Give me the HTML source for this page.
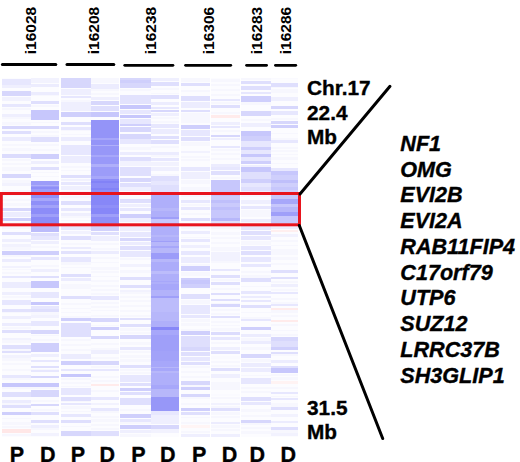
<!DOCTYPE html>
<html><head><meta charset="utf-8"><style>
html,body{margin:0;padding:0;background:#fff;}
body{width:520px;height:462px;overflow:hidden;}
svg{display:block;}
text{font-family:"Liberation Sans",sans-serif;font-weight:bold;fill:#000;stroke:#000;stroke-width:0.35px;}
.vl{font-size:15.5px;stroke-width:0;}
.pd{font-size:21.5px;text-anchor:middle;}
.lab{font-size:20.8px;}
.g{font-size:21.6px;font-style:italic;}
</style></head><body>
<svg width="520" height="462" viewBox="0 0 520 462">
<defs><filter id="bl" x="0" y="0" width="1" height="1"><feGaussianBlur stdDeviation="0.75"/></filter></defs>
<g filter="url(#bl)" shape-rendering="crispEdges">
<rect x="1.5" y="77.5" width="29.00" height="359.5" fill="rgb(252,252,255)"/>
<rect x="1.5" y="107.7" width="29.00" height="2.5" fill="rgb(247,247,254)"/>
<rect x="1.5" y="117.4" width="29.00" height="1.5" fill="rgb(247,247,254)"/>
<rect x="1.5" y="122.2" width="29.00" height="2.5" fill="rgb(247,247,254)"/>
<rect x="1.5" y="143.8" width="29.00" height="2" fill="rgb(247,247,254)"/>
<rect x="1.5" y="148.3" width="29.00" height="2.5" fill="rgb(247,247,254)"/>
<rect x="1.5" y="158.5" width="29.00" height="2" fill="rgb(247,247,254)"/>
<rect x="1.5" y="162.8" width="29.00" height="2.5" fill="rgb(247,247,254)"/>
<rect x="1.5" y="180.0" width="29.00" height="2.5" fill="rgb(247,247,254)"/>
<rect x="1.5" y="189.6" width="29.00" height="2" fill="rgb(247,247,254)"/>
<rect x="1.5" y="194.1" width="29.00" height="2" fill="rgb(247,247,254)"/>
<rect x="1.5" y="198.7" width="29.00" height="2.5" fill="rgb(247,247,254)"/>
<rect x="1.5" y="203.4" width="29.00" height="2.5" fill="rgb(247,247,254)"/>
<rect x="1.5" y="222.3" width="29.00" height="1.5" fill="rgb(247,247,254)"/>
<rect x="1.5" y="247.2" width="29.00" height="2.5" fill="rgb(247,247,254)"/>
<rect x="1.5" y="254.9" width="29.00" height="2.5" fill="rgb(247,247,254)"/>
<rect x="1.5" y="268.9" width="29.00" height="1.5" fill="rgb(247,247,254)"/>
<rect x="1.5" y="272.4" width="29.00" height="2" fill="rgb(247,247,254)"/>
<rect x="1.5" y="295.6" width="29.00" height="2" fill="rgb(247,247,254)"/>
<rect x="1.5" y="311.5" width="29.00" height="1.5" fill="rgb(247,247,254)"/>
<rect x="1.5" y="326.6" width="29.00" height="2" fill="rgb(247,247,254)"/>
<rect x="1.5" y="340.2" width="29.00" height="2.5" fill="rgb(247,247,254)"/>
<rect x="1.5" y="349.4" width="29.00" height="1.5" fill="rgb(247,247,254)"/>
<rect x="1.5" y="358.2" width="29.00" height="2.5" fill="rgb(247,247,254)"/>
<rect x="1.5" y="363.1" width="29.00" height="1.5" fill="rgb(247,247,254)"/>
<rect x="1.5" y="368.5" width="29.00" height="2" fill="rgb(247,247,254)"/>
<rect x="1.5" y="378.0" width="29.00" height="2" fill="rgb(247,247,254)"/>
<rect x="1.5" y="387.0" width="29.00" height="2" fill="rgb(247,247,254)"/>
<rect x="1.5" y="403.0" width="29.00" height="2" fill="rgb(247,247,254)"/>
<rect x="1.5" y="417.6" width="29.00" height="1.5" fill="rgb(247,247,254)"/>
<rect x="1.5" y="422.3" width="29.00" height="2.5" fill="rgb(247,247,254)"/>
<rect x="1.5" y="425.8" width="29.00" height="2" fill="rgb(247,247,254)"/>
<rect x="1.5" y="433.9" width="29.00" height="2.5" fill="rgb(247,247,254)"/>
<rect x="1.5" y="79" width="29.00" height="6.00" fill="rgb(231,231,254)"/>
<rect x="1.5" y="85" width="29.00" height="3.00" fill="rgb(239,239,254)"/>
<rect x="1.5" y="90.6" width="29.00" height="4.90" fill="rgb(215,215,252)"/>
<rect x="1.5" y="96.5" width="29.00" height="4.50" fill="rgb(242,242,254)"/>
<rect x="1.5" y="104" width="29.00" height="3.00" fill="rgb(231,231,254)"/>
<rect x="1.5" y="114" width="29.00" height="3.00" fill="rgb(239,239,254)"/>
<rect x="1.5" y="125.7" width="29.00" height="2.90" fill="rgb(215,215,252)"/>
<rect x="1.5" y="130.6" width="29.00" height="2.90" fill="rgb(223,223,253)"/>
<rect x="1.5" y="137.4" width="29.00" height="3.90" fill="rgb(236,236,254)"/>
<rect x="1.5" y="154" width="29.00" height="4.00" fill="rgb(220,220,253)"/>
<rect x="1.5" y="167" width="29.00" height="4.00" fill="rgb(247,247,254)"/>
<rect x="1.5" y="173.8" width="29.00" height="3.90" fill="rgb(215,215,252)"/>
<rect x="1.5" y="182.6" width="29.00" height="2.90" fill="rgb(242,242,254)"/>
<rect x="1.5" y="208" width="29.00" height="3.00" fill="rgb(215,215,252)"/>
<rect x="1.5" y="212" width="29.00" height="4.70" fill="rgb(236,236,254)"/>
<rect x="1.5" y="217.6" width="29.00" height="3.00" fill="rgb(207,207,252)"/>
<rect x="1.5" y="226" width="29.00" height="3.00" fill="rgb(247,247,254)"/>
<rect x="1.5" y="232" width="29.00" height="3.00" fill="rgb(223,223,253)"/>
<rect x="1.5" y="239" width="29.00" height="3.00" fill="rgb(239,239,254)"/>
<rect x="1.5" y="244" width="29.00" height="3.00" fill="rgb(242,242,254)"/>
<rect x="1.5" y="250.8" width="29.00" height="3.90" fill="rgb(207,207,252)"/>
<rect x="1.5" y="259" width="29.00" height="3.00" fill="rgb(236,236,254)"/>
<rect x="1.5" y="265.8" width="29.00" height="1.90" fill="rgb(242,242,254)"/>
<rect x="1.5" y="275.5" width="29.00" height="2.90" fill="rgb(231,231,254)"/>
<rect x="1.5" y="282.3" width="29.00" height="5.90" fill="rgb(236,236,254)"/>
<rect x="1.5" y="292" width="29.00" height="3.00" fill="rgb(239,239,254)"/>
<rect x="1.5" y="299.9" width="29.00" height="4.80" fill="rgb(231,231,254)"/>
<rect x="1.5" y="308.6" width="29.00" height="2.90" fill="rgb(226,226,253)"/>
<rect x="1.5" y="316.4" width="29.00" height="2.90" fill="rgb(239,239,254)"/>
<rect x="1.5" y="323" width="29.00" height="3.00" fill="rgb(236,236,254)"/>
<rect x="1.5" y="330" width="29.00" height="3.00" fill="rgb(223,223,253)"/>
<rect x="1.5" y="337.8" width="29.00" height="2.00" fill="rgb(242,242,254)"/>
<rect x="1.5" y="344.7" width="29.00" height="4.30" fill="rgb(223,223,253)"/>
<rect x="1.5" y="351" width="29.00" height="2.00" fill="rgb(223,223,253)"/>
<rect x="1.5" y="354.8" width="29.00" height="2.90" fill="rgb(242,242,254)"/>
<rect x="1.5" y="375" width="29.00" height="3.00" fill="rgb(231,231,254)"/>
<rect x="1.5" y="383" width="29.00" height="4.00" fill="rgb(199,199,252)"/>
<rect x="1.5" y="391.8" width="29.00" height="4.90" fill="rgb(223,223,253)"/>
<rect x="1.5" y="399.6" width="29.00" height="2.90" fill="rgb(236,236,254)"/>
<rect x="1.5" y="405.4" width="29.00" height="3.00" fill="rgb(223,223,253)"/>
<rect x="1.5" y="412.3" width="29.00" height="2.90" fill="rgb(207,207,252)"/>
<rect x="1.5" y="428.8" width="29.00" height="3.90" fill="rgb(255,231,231)"/>
<rect x="30.5" y="77.5" width="28.80" height="359.5" fill="rgb(252,252,255)"/>
<rect x="30.5" y="94.5" width="28.80" height="1.5" fill="rgb(247,247,254)"/>
<rect x="30.5" y="105.1" width="28.80" height="1.5" fill="rgb(247,247,254)"/>
<rect x="30.5" y="121.9" width="28.80" height="1.5" fill="rgb(247,247,254)"/>
<rect x="30.5" y="131.2" width="28.80" height="2" fill="rgb(247,247,254)"/>
<rect x="30.5" y="135.3" width="28.80" height="1.5" fill="rgb(247,247,254)"/>
<rect x="30.5" y="144.4" width="28.80" height="1.5" fill="rgb(247,247,254)"/>
<rect x="30.5" y="149.0" width="28.80" height="1.5" fill="rgb(247,247,254)"/>
<rect x="30.5" y="171.5" width="28.80" height="1.5" fill="rgb(247,247,254)"/>
<rect x="30.5" y="175.5" width="28.80" height="1.5" fill="rgb(247,247,254)"/>
<rect x="30.5" y="246.0" width="28.80" height="1.5" fill="rgb(247,247,254)"/>
<rect x="30.5" y="264.9" width="28.80" height="2.5" fill="rgb(247,247,254)"/>
<rect x="30.5" y="312.0" width="28.80" height="2.5" fill="rgb(247,247,254)"/>
<rect x="30.5" y="334.9" width="28.80" height="1.5" fill="rgb(247,247,254)"/>
<rect x="30.5" y="339.2" width="28.80" height="1.5" fill="rgb(247,247,254)"/>
<rect x="30.5" y="368.7" width="28.80" height="1.5" fill="rgb(247,247,254)"/>
<rect x="30.5" y="387.0" width="28.80" height="1.5" fill="rgb(247,247,254)"/>
<rect x="30.5" y="399.6" width="28.80" height="2" fill="rgb(247,247,254)"/>
<rect x="30.5" y="409.4" width="28.80" height="1.5" fill="rgb(247,247,254)"/>
<rect x="30.5" y="428.1" width="28.80" height="2" fill="rgb(247,247,254)"/>
<rect x="30.5" y="77.5" width="28.80" height="5.50" fill="rgb(242,242,254)"/>
<rect x="30.5" y="84" width="28.80" height="3.00" fill="rgb(236,236,254)"/>
<rect x="30.5" y="91.6" width="28.80" height="2.90" fill="rgb(236,236,254)"/>
<rect x="30.5" y="101.3" width="28.80" height="3.00" fill="rgb(223,223,253)"/>
<rect x="30.5" y="110" width="28.80" height="10.00" fill="rgb(199,199,252)"/>
<rect x="30.5" y="125.7" width="28.80" height="2.90" fill="rgb(215,215,252)"/>
<rect x="30.5" y="137.4" width="28.80" height="4.90" fill="rgb(223,223,253)"/>
<rect x="30.5" y="154" width="28.80" height="5.00" fill="rgb(207,207,252)"/>
<rect x="30.5" y="161" width="28.80" height="3.00" fill="rgb(239,239,254)"/>
<rect x="30.5" y="167" width="28.80" height="3.00" fill="rgb(223,223,253)"/>
<rect x="30.5" y="180.8" width="28.80" height="3.90" fill="rgb(156,156,249)"/>
<rect x="30.5" y="184.7" width="28.80" height="1.10" fill="rgb(175,175,250)"/>
<rect x="30.5" y="185.8" width="28.80" height="1.20" fill="rgb(156,156,249)"/>
<rect x="30.5" y="187" width="28.80" height="2.30" fill="rgb(143,143,248)"/>
<rect x="30.5" y="189.3" width="28.80" height="5.20" fill="rgb(156,156,249)"/>
<rect x="30.5" y="194.5" width="28.80" height="3.20" fill="rgb(143,143,248)"/>
<rect x="30.5" y="197.7" width="28.80" height="3.60" fill="rgb(167,167,250)"/>
<rect x="30.5" y="201.3" width="28.80" height="3.70" fill="rgb(143,143,248)"/>
<rect x="30.5" y="205" width="28.80" height="2.70" fill="rgb(162,162,249)"/>
<rect x="30.5" y="207.7" width="28.80" height="6.30" fill="rgb(140,140,248)"/>
<rect x="30.5" y="214" width="28.80" height="2.60" fill="rgb(159,159,249)"/>
<rect x="30.5" y="216.6" width="28.80" height="7.40" fill="rgb(140,140,248)"/>
<rect x="30.5" y="224" width="28.80" height="2.00" fill="rgb(167,167,250)"/>
<rect x="30.5" y="226" width="28.80" height="6.00" fill="rgb(188,188,251)"/>
<rect x="30.5" y="233" width="28.80" height="3.00" fill="rgb(223,223,253)"/>
<rect x="30.5" y="236" width="28.80" height="4.00" fill="rgb(231,231,254)"/>
<rect x="30.5" y="241" width="28.80" height="3.00" fill="rgb(239,239,254)"/>
<rect x="30.5" y="250.8" width="28.80" height="3.90" fill="rgb(207,207,252)"/>
<rect x="30.5" y="257" width="28.80" height="3.00" fill="rgb(231,231,254)"/>
<rect x="30.5" y="268.7" width="28.80" height="2.90" fill="rgb(239,239,254)"/>
<rect x="30.5" y="275.5" width="28.80" height="2.90" fill="rgb(223,223,253)"/>
<rect x="30.5" y="281.4" width="28.80" height="6.80" fill="rgb(199,199,252)"/>
<rect x="30.5" y="292" width="28.80" height="6.00" fill="rgb(231,231,254)"/>
<rect x="30.5" y="301.8" width="28.80" height="2.90" fill="rgb(199,199,252)"/>
<rect x="30.5" y="306" width="28.80" height="2.60" fill="rgb(231,231,254)"/>
<rect x="30.5" y="308.6" width="28.80" height="2.90" fill="rgb(223,223,253)"/>
<rect x="30.5" y="315" width="28.80" height="3.00" fill="rgb(242,242,254)"/>
<rect x="30.5" y="321" width="28.80" height="5.00" fill="rgb(231,231,254)"/>
<rect x="30.5" y="330" width="28.80" height="4.00" fill="rgb(215,215,252)"/>
<rect x="30.5" y="342.7" width="28.80" height="9.30" fill="rgb(207,207,252)"/>
<rect x="30.5" y="354" width="28.80" height="3.00" fill="rgb(239,239,254)"/>
<rect x="30.5" y="359.7" width="28.80" height="1.90" fill="rgb(231,231,254)"/>
<rect x="30.5" y="365.5" width="28.80" height="2.90" fill="rgb(223,223,253)"/>
<rect x="30.5" y="370.4" width="28.80" height="1.90" fill="rgb(231,231,254)"/>
<rect x="30.5" y="376" width="28.80" height="2.00" fill="rgb(215,215,252)"/>
<rect x="30.5" y="383" width="28.80" height="4.00" fill="rgb(199,199,252)"/>
<rect x="30.5" y="389.9" width="28.80" height="6.80" fill="rgb(215,215,252)"/>
<rect x="30.5" y="403.5" width="28.80" height="2.90" fill="rgb(215,215,252)"/>
<rect x="30.5" y="412.3" width="28.80" height="2.90" fill="rgb(223,223,253)"/>
<rect x="30.5" y="420" width="28.80" height="3.00" fill="rgb(223,223,253)"/>
<rect x="30.5" y="425" width="28.80" height="3.00" fill="rgb(239,239,254)"/>
<rect x="30.5" y="432.7" width="28.80" height="2.90" fill="rgb(242,242,254)"/>
<rect x="60.8" y="77.5" width="29.90" height="359.5" fill="rgb(252,252,255)"/>
<rect x="60.8" y="100.1" width="29.90" height="2" fill="rgb(247,247,254)"/>
<rect x="60.8" y="129.9" width="29.90" height="1.5" fill="rgb(247,247,254)"/>
<rect x="60.8" y="133.6" width="29.90" height="1.5" fill="rgb(247,247,254)"/>
<rect x="60.8" y="166.1" width="29.90" height="2" fill="rgb(247,247,254)"/>
<rect x="60.8" y="169.7" width="29.90" height="1.5" fill="rgb(247,247,254)"/>
<rect x="60.8" y="191.4" width="29.90" height="1.5" fill="rgb(247,247,254)"/>
<rect x="60.8" y="196.4" width="29.90" height="1.5" fill="rgb(247,247,254)"/>
<rect x="60.8" y="215.8" width="29.90" height="2" fill="rgb(247,247,254)"/>
<rect x="60.8" y="219.9" width="29.90" height="1.5" fill="rgb(247,247,254)"/>
<rect x="60.8" y="224.3" width="29.90" height="1.5" fill="rgb(247,247,254)"/>
<rect x="60.8" y="243.2" width="29.90" height="2" fill="rgb(247,247,254)"/>
<rect x="60.8" y="262.3" width="29.90" height="2.5" fill="rgb(247,247,254)"/>
<rect x="60.8" y="266.8" width="29.90" height="1.5" fill="rgb(247,247,254)"/>
<rect x="60.8" y="284.0" width="29.90" height="1.5" fill="rgb(247,247,254)"/>
<rect x="60.8" y="303.1" width="29.90" height="1.5" fill="rgb(247,247,254)"/>
<rect x="60.8" y="307.8" width="29.90" height="1.5" fill="rgb(247,247,254)"/>
<rect x="60.8" y="311.7" width="29.90" height="1.5" fill="rgb(247,247,254)"/>
<rect x="60.8" y="316.0" width="29.90" height="2" fill="rgb(247,247,254)"/>
<rect x="60.8" y="338.8" width="29.90" height="2" fill="rgb(247,247,254)"/>
<rect x="60.8" y="343.8" width="29.90" height="2" fill="rgb(247,247,254)"/>
<rect x="60.8" y="349.2" width="29.90" height="1.5" fill="rgb(247,247,254)"/>
<rect x="60.8" y="377.6" width="29.90" height="2" fill="rgb(247,247,254)"/>
<rect x="60.8" y="381.6" width="29.90" height="2.5" fill="rgb(247,247,254)"/>
<rect x="60.8" y="385.8" width="29.90" height="1.5" fill="rgb(247,247,254)"/>
<rect x="60.8" y="400.8" width="29.90" height="1.5" fill="rgb(247,247,254)"/>
<rect x="60.8" y="406.2" width="29.90" height="2.5" fill="rgb(247,247,254)"/>
<rect x="60.8" y="410.9" width="29.90" height="1.5" fill="rgb(247,247,254)"/>
<rect x="60.8" y="425.5" width="29.90" height="1.5" fill="rgb(247,247,254)"/>
<rect x="60.8" y="77.5" width="29.90" height="10.20" fill="rgb(215,215,252)"/>
<rect x="60.8" y="88.7" width="29.90" height="5.80" fill="rgb(239,239,254)"/>
<rect x="60.8" y="95.5" width="29.90" height="2.90" fill="rgb(231,231,254)"/>
<rect x="60.8" y="102.3" width="29.90" height="8.70" fill="rgb(239,239,254)"/>
<rect x="60.8" y="112" width="29.90" height="5.00" fill="rgb(207,207,252)"/>
<rect x="60.8" y="121.8" width="29.90" height="2.90" fill="rgb(223,223,253)"/>
<rect x="60.8" y="126.7" width="29.90" height="2.90" fill="rgb(231,231,254)"/>
<rect x="60.8" y="137.4" width="29.90" height="3.90" fill="rgb(236,236,254)"/>
<rect x="60.8" y="145" width="29.90" height="10.00" fill="rgb(231,231,254)"/>
<rect x="60.8" y="156" width="29.90" height="6.70" fill="rgb(236,236,254)"/>
<rect x="60.8" y="174.8" width="29.90" height="2.90" fill="rgb(223,223,253)"/>
<rect x="60.8" y="179" width="29.90" height="2.00" fill="rgb(242,242,254)"/>
<rect x="60.8" y="181.6" width="29.90" height="2.90" fill="rgb(231,231,254)"/>
<rect x="60.8" y="185.5" width="29.90" height="4.90" fill="rgb(239,239,254)"/>
<rect x="60.8" y="201" width="29.90" height="4.00" fill="rgb(223,223,253)"/>
<rect x="60.8" y="208" width="29.90" height="3.00" fill="rgb(231,231,254)"/>
<rect x="60.8" y="212.8" width="29.90" height="2.90" fill="rgb(239,239,254)"/>
<rect x="60.8" y="226.4" width="29.90" height="3.90" fill="rgb(231,231,254)"/>
<rect x="60.8" y="231" width="29.90" height="3.00" fill="rgb(242,242,254)"/>
<rect x="60.8" y="236" width="29.90" height="4.00" fill="rgb(223,223,253)"/>
<rect x="60.8" y="246.9" width="29.90" height="1.90" fill="rgb(236,236,254)"/>
<rect x="60.8" y="250.8" width="29.90" height="2.90" fill="rgb(226,226,253)"/>
<rect x="60.8" y="257" width="29.90" height="5.00" fill="rgb(231,231,254)"/>
<rect x="60.8" y="273.6" width="29.90" height="2.90" fill="rgb(223,223,253)"/>
<rect x="60.8" y="277.5" width="29.90" height="3.90" fill="rgb(236,236,254)"/>
<rect x="60.8" y="286" width="29.90" height="3.00" fill="rgb(247,247,254)"/>
<rect x="60.8" y="296" width="29.90" height="3.00" fill="rgb(223,223,253)"/>
<rect x="60.8" y="318.4" width="29.90" height="2.90" fill="rgb(207,207,252)"/>
<rect x="60.8" y="323" width="29.90" height="14.00" fill="rgb(223,223,253)"/>
<rect x="60.8" y="353.8" width="29.90" height="4.90" fill="rgb(236,236,254)"/>
<rect x="60.8" y="360.6" width="29.90" height="3.90" fill="rgb(207,207,252)"/>
<rect x="60.8" y="369.4" width="29.90" height="2.00" fill="rgb(231,231,254)"/>
<rect x="60.8" y="374.3" width="29.90" height="2.90" fill="rgb(199,199,252)"/>
<rect x="60.8" y="388" width="29.90" height="6.70" fill="rgb(231,231,254)"/>
<rect x="60.8" y="396.7" width="29.90" height="3.90" fill="rgb(223,223,253)"/>
<rect x="60.8" y="402.5" width="29.90" height="2.90" fill="rgb(231,231,254)"/>
<rect x="60.8" y="414.2" width="29.90" height="2.90" fill="rgb(231,231,254)"/>
<rect x="60.8" y="420" width="29.90" height="3.00" fill="rgb(223,223,253)"/>
<rect x="60.8" y="430.8" width="29.90" height="4.80" fill="rgb(215,215,252)"/>
<rect x="90.7" y="77.5" width="28.70" height="359.5" fill="rgb(252,252,255)"/>
<rect x="90.7" y="89.1" width="28.70" height="2" fill="rgb(247,247,254)"/>
<rect x="90.7" y="93.3" width="28.70" height="2" fill="rgb(247,247,254)"/>
<rect x="90.7" y="242.7" width="28.70" height="2" fill="rgb(247,247,254)"/>
<rect x="90.7" y="248.0" width="28.70" height="2" fill="rgb(247,247,254)"/>
<rect x="90.7" y="256.8" width="28.70" height="2" fill="rgb(247,247,254)"/>
<rect x="90.7" y="261.8" width="28.70" height="1.5" fill="rgb(247,247,254)"/>
<rect x="90.7" y="267.2" width="28.70" height="2.5" fill="rgb(247,247,254)"/>
<rect x="90.7" y="271.3" width="28.70" height="2" fill="rgb(247,247,254)"/>
<rect x="90.7" y="275.7" width="28.70" height="1.5" fill="rgb(247,247,254)"/>
<rect x="90.7" y="280.0" width="28.70" height="2" fill="rgb(247,247,254)"/>
<rect x="90.7" y="284.5" width="28.70" height="2.5" fill="rgb(247,247,254)"/>
<rect x="90.7" y="289.2" width="28.70" height="1.5" fill="rgb(247,247,254)"/>
<rect x="90.7" y="292.9" width="28.70" height="2.5" fill="rgb(247,247,254)"/>
<rect x="90.7" y="301.8" width="28.70" height="2.5" fill="rgb(247,247,254)"/>
<rect x="90.7" y="305.6" width="28.70" height="2" fill="rgb(247,247,254)"/>
<rect x="90.7" y="309.6" width="28.70" height="1.5" fill="rgb(247,247,254)"/>
<rect x="90.7" y="314.7" width="28.70" height="2.5" fill="rgb(247,247,254)"/>
<rect x="90.7" y="324.5" width="28.70" height="1.5" fill="rgb(247,247,254)"/>
<rect x="90.7" y="343.4" width="28.70" height="1.5" fill="rgb(247,247,254)"/>
<rect x="90.7" y="348.0" width="28.70" height="1.5" fill="rgb(247,247,254)"/>
<rect x="90.7" y="356.9" width="28.70" height="2" fill="rgb(247,247,254)"/>
<rect x="90.7" y="366.2" width="28.70" height="2" fill="rgb(247,247,254)"/>
<rect x="90.7" y="376.0" width="28.70" height="1.5" fill="rgb(247,247,254)"/>
<rect x="90.7" y="379.5" width="28.70" height="2.5" fill="rgb(247,247,254)"/>
<rect x="90.7" y="389.8" width="28.70" height="2" fill="rgb(247,247,254)"/>
<rect x="90.7" y="411.4" width="28.70" height="2" fill="rgb(247,247,254)"/>
<rect x="90.7" y="415.8" width="28.70" height="2.5" fill="rgb(247,247,254)"/>
<rect x="90.7" y="419.4" width="28.70" height="2.5" fill="rgb(247,247,254)"/>
<rect x="90.7" y="424.1" width="28.70" height="1.5" fill="rgb(247,247,254)"/>
<rect x="90.7" y="428.2" width="28.70" height="2" fill="rgb(247,247,254)"/>
<rect x="90.7" y="77.5" width="28.70" height="5.50" fill="rgb(247,247,254)"/>
<rect x="90.7" y="83.8" width="28.70" height="4.90" fill="rgb(236,236,254)"/>
<rect x="90.7" y="96.5" width="28.70" height="3.90" fill="rgb(239,239,254)"/>
<rect x="90.7" y="101.3" width="28.70" height="3.90" fill="rgb(215,215,252)"/>
<rect x="90.7" y="106" width="28.70" height="5.00" fill="rgb(223,223,253)"/>
<rect x="90.7" y="112" width="28.70" height="5.00" fill="rgb(199,199,252)"/>
<rect x="90.7" y="119.8" width="28.70" height="18.20" fill="rgb(148,148,248)"/>
<rect x="90.7" y="138" width="28.70" height="2.00" fill="rgb(167,167,250)"/>
<rect x="90.7" y="140" width="28.70" height="5.00" fill="rgb(148,148,248)"/>
<rect x="90.7" y="145" width="28.70" height="1.40" fill="rgb(175,175,250)"/>
<rect x="90.7" y="146.4" width="28.70" height="8.60" fill="rgb(151,151,248)"/>
<rect x="90.7" y="155" width="28.70" height="1.80" fill="rgb(167,167,250)"/>
<rect x="90.7" y="156.8" width="28.70" height="7.20" fill="rgb(153,153,249)"/>
<rect x="90.7" y="164" width="28.70" height="2.50" fill="rgb(175,175,250)"/>
<rect x="90.7" y="166.5" width="28.70" height="0.50" fill="rgb(156,156,249)"/>
<rect x="90.7" y="167" width="28.70" height="9.00" fill="rgb(156,156,249)"/>
<rect x="90.7" y="176" width="28.70" height="3.00" fill="rgb(167,167,250)"/>
<rect x="90.7" y="179" width="28.70" height="2.00" fill="rgb(140,140,248)"/>
<rect x="90.7" y="181" width="28.70" height="2.00" fill="rgb(130,130,247)"/>
<rect x="90.7" y="183" width="28.70" height="2.00" fill="rgb(140,140,248)"/>
<rect x="90.7" y="185" width="28.70" height="2.50" fill="rgb(140,140,248)"/>
<rect x="90.7" y="187.5" width="28.70" height="2.50" fill="rgb(130,130,247)"/>
<rect x="90.7" y="190" width="28.70" height="5.00" fill="rgb(140,140,248)"/>
<rect x="90.7" y="195" width="28.70" height="9.80" fill="rgb(135,135,248)"/>
<rect x="90.7" y="204.8" width="28.70" height="3.10" fill="rgb(143,143,248)"/>
<rect x="90.7" y="207.9" width="28.70" height="6.10" fill="rgb(135,135,248)"/>
<rect x="90.7" y="214" width="28.70" height="3.00" fill="rgb(159,159,249)"/>
<rect x="90.7" y="217" width="28.70" height="6.00" fill="rgb(143,143,248)"/>
<rect x="90.7" y="223" width="28.70" height="3.00" fill="rgb(159,159,249)"/>
<rect x="90.7" y="226" width="28.70" height="4.60" fill="rgb(210,210,252)"/>
<rect x="90.7" y="232" width="28.70" height="3.00" fill="rgb(223,223,253)"/>
<rect x="90.7" y="236" width="28.70" height="5.00" fill="rgb(239,239,254)"/>
<rect x="90.7" y="250.8" width="28.70" height="2.90" fill="rgb(236,236,254)"/>
<rect x="90.7" y="296" width="28.70" height="4.00" fill="rgb(231,231,254)"/>
<rect x="90.7" y="318.4" width="28.70" height="3.90" fill="rgb(215,215,252)"/>
<rect x="90.7" y="327" width="28.70" height="3.00" fill="rgb(207,207,252)"/>
<rect x="90.7" y="336" width="28.70" height="3.00" fill="rgb(215,215,252)"/>
<rect x="90.7" y="350" width="28.70" height="3.80" fill="rgb(239,239,254)"/>
<rect x="90.7" y="360.6" width="28.70" height="3.90" fill="rgb(215,215,252)"/>
<rect x="90.7" y="369.4" width="28.70" height="2.00" fill="rgb(231,231,254)"/>
<rect x="90.7" y="384" width="28.70" height="2.00" fill="rgb(255,235,235)"/>
<rect x="90.7" y="396.7" width="28.70" height="2.90" fill="rgb(231,231,254)"/>
<rect x="90.7" y="402.5" width="28.70" height="2.90" fill="rgb(242,242,254)"/>
<rect x="90.7" y="408.4" width="28.70" height="2.90" fill="rgb(231,231,254)"/>
<rect x="90.7" y="430.8" width="28.70" height="4.80" fill="rgb(223,223,253)"/>
<rect x="120" y="77.5" width="30.60" height="359.5" fill="rgb(252,252,255)"/>
<rect x="120" y="89.0" width="30.60" height="1.5" fill="rgb(247,247,254)"/>
<rect x="120" y="147.0" width="30.60" height="2.5" fill="rgb(247,247,254)"/>
<rect x="120" y="193.0" width="30.60" height="2" fill="rgb(247,247,254)"/>
<rect x="120" y="258.0" width="30.60" height="1.5" fill="rgb(247,247,254)"/>
<rect x="120" y="270.1" width="30.60" height="2.5" fill="rgb(247,247,254)"/>
<rect x="120" y="292.4" width="30.60" height="2" fill="rgb(247,247,254)"/>
<rect x="120" y="295.9" width="30.60" height="2" fill="rgb(247,247,254)"/>
<rect x="120" y="299.8" width="30.60" height="2" fill="rgb(247,247,254)"/>
<rect x="120" y="304.6" width="30.60" height="2.5" fill="rgb(247,247,254)"/>
<rect x="120" y="310.1" width="30.60" height="2" fill="rgb(247,247,254)"/>
<rect x="120" y="315.0" width="30.60" height="1.5" fill="rgb(247,247,254)"/>
<rect x="120" y="328.2" width="30.60" height="2.5" fill="rgb(247,247,254)"/>
<rect x="120" y="332.0" width="30.60" height="2" fill="rgb(247,247,254)"/>
<rect x="120" y="342.0" width="30.60" height="2.5" fill="rgb(247,247,254)"/>
<rect x="120" y="350.7" width="30.60" height="2.5" fill="rgb(247,247,254)"/>
<rect x="120" y="355.3" width="30.60" height="2.5" fill="rgb(247,247,254)"/>
<rect x="120" y="359.3" width="30.60" height="2.5" fill="rgb(247,247,254)"/>
<rect x="120" y="368.9" width="30.60" height="2.5" fill="rgb(247,247,254)"/>
<rect x="120" y="372.4" width="30.60" height="2" fill="rgb(247,247,254)"/>
<rect x="120" y="408.6" width="30.60" height="2.5" fill="rgb(247,247,254)"/>
<rect x="120" y="422.4" width="30.60" height="2" fill="rgb(247,247,254)"/>
<rect x="120" y="434.4" width="30.60" height="2.5" fill="rgb(247,247,254)"/>
<rect x="120" y="77.5" width="30.60" height="2.50" fill="rgb(215,215,252)"/>
<rect x="120" y="80" width="30.60" height="3.00" fill="rgb(207,207,252)"/>
<rect x="120" y="83" width="30.60" height="4.70" fill="rgb(215,215,252)"/>
<rect x="120" y="94.5" width="30.60" height="9.80" fill="rgb(226,226,253)"/>
<rect x="120" y="105.2" width="30.60" height="3.80" fill="rgb(199,199,252)"/>
<rect x="120" y="110" width="30.60" height="4.00" fill="rgb(231,231,254)"/>
<rect x="120" y="115" width="30.60" height="3.00" fill="rgb(199,199,252)"/>
<rect x="120" y="119" width="30.60" height="4.80" fill="rgb(231,231,254)"/>
<rect x="120" y="123.8" width="30.60" height="1.90" fill="rgb(207,207,252)"/>
<rect x="120" y="126.7" width="30.60" height="4.80" fill="rgb(215,215,252)"/>
<rect x="120" y="133.5" width="30.60" height="5.80" fill="rgb(215,215,252)"/>
<rect x="120" y="139.3" width="30.60" height="4.90" fill="rgb(231,231,254)"/>
<rect x="120" y="152" width="30.60" height="3.00" fill="rgb(236,236,254)"/>
<rect x="120" y="157" width="30.60" height="3.80" fill="rgb(223,223,253)"/>
<rect x="120" y="161" width="30.60" height="5.00" fill="rgb(242,242,254)"/>
<rect x="120" y="167" width="30.60" height="8.80" fill="rgb(223,223,253)"/>
<rect x="120" y="177.7" width="30.60" height="3.90" fill="rgb(215,215,252)"/>
<rect x="120" y="182.6" width="30.60" height="3.90" fill="rgb(223,223,253)"/>
<rect x="120" y="186.5" width="30.60" height="4.50" fill="rgb(239,239,254)"/>
<rect x="120" y="199" width="30.60" height="4.00" fill="rgb(223,223,253)"/>
<rect x="120" y="204" width="30.60" height="3.00" fill="rgb(239,239,254)"/>
<rect x="120" y="208" width="30.60" height="3.00" fill="rgb(231,231,254)"/>
<rect x="120" y="213.8" width="30.60" height="3.80" fill="rgb(207,207,252)"/>
<rect x="120" y="218" width="30.60" height="4.00" fill="rgb(239,239,254)"/>
<rect x="120" y="226.4" width="30.60" height="4.90" fill="rgb(239,239,254)"/>
<rect x="120" y="232" width="30.60" height="5.00" fill="rgb(231,231,254)"/>
<rect x="120" y="238" width="30.60" height="3.00" fill="rgb(215,215,252)"/>
<rect x="120" y="242" width="30.60" height="3.00" fill="rgb(236,236,254)"/>
<rect x="120" y="246" width="30.60" height="4.00" fill="rgb(223,223,253)"/>
<rect x="120" y="250.8" width="30.60" height="6.20" fill="rgb(231,231,254)"/>
<rect x="120" y="263.8" width="30.60" height="2.90" fill="rgb(242,242,254)"/>
<rect x="120" y="276.5" width="30.60" height="3.90" fill="rgb(223,223,253)"/>
<rect x="120" y="285.2" width="30.60" height="3.00" fill="rgb(223,223,253)"/>
<rect x="120" y="290" width="30.60" height="2.00" fill="rgb(242,242,254)"/>
<rect x="120" y="318.4" width="30.60" height="1.90" fill="rgb(223,223,253)"/>
<rect x="120" y="324.2" width="30.60" height="2.90" fill="rgb(223,223,253)"/>
<rect x="120" y="335" width="30.60" height="3.80" fill="rgb(215,215,252)"/>
<rect x="120" y="347" width="30.60" height="3.00" fill="rgb(231,231,254)"/>
<rect x="120" y="364.5" width="30.60" height="3.00" fill="rgb(223,223,253)"/>
<rect x="120" y="375" width="30.60" height="7.00" fill="rgb(231,231,254)"/>
<rect x="120" y="383" width="30.60" height="3.00" fill="rgb(223,223,253)"/>
<rect x="120" y="388" width="30.60" height="3.00" fill="rgb(207,207,252)"/>
<rect x="120" y="391.8" width="30.60" height="2.90" fill="rgb(223,223,253)"/>
<rect x="120" y="397.7" width="30.60" height="7.70" fill="rgb(223,223,253)"/>
<rect x="120" y="414.2" width="30.60" height="3.80" fill="rgb(207,207,252)"/>
<rect x="120" y="419" width="30.60" height="3.00" fill="rgb(231,231,254)"/>
<rect x="120" y="425" width="30.60" height="3.80" fill="rgb(207,207,252)"/>
<rect x="120" y="430" width="30.60" height="3.00" fill="rgb(239,239,254)"/>
<rect x="151.3" y="77.5" width="27.70" height="359.5" fill="rgb(252,252,255)"/>
<rect x="151.3" y="87.6" width="27.70" height="2.5" fill="rgb(247,247,254)"/>
<rect x="151.3" y="92.6" width="27.70" height="1.5" fill="rgb(247,247,254)"/>
<rect x="151.3" y="116.5" width="27.70" height="2" fill="rgb(247,247,254)"/>
<rect x="151.3" y="120.6" width="27.70" height="2" fill="rgb(247,247,254)"/>
<rect x="151.3" y="145.6" width="27.70" height="2.5" fill="rgb(247,247,254)"/>
<rect x="151.3" y="155.2" width="27.70" height="1.5" fill="rgb(247,247,254)"/>
<rect x="151.3" y="173.5" width="27.70" height="2" fill="rgb(247,247,254)"/>
<rect x="151.3" y="77.5" width="27.70" height="3.50" fill="rgb(239,239,254)"/>
<rect x="151.3" y="81.9" width="27.70" height="3.90" fill="rgb(223,223,253)"/>
<rect x="151.3" y="94.5" width="27.70" height="4.90" fill="rgb(223,223,253)"/>
<rect x="151.3" y="102.3" width="27.70" height="2.90" fill="rgb(236,236,254)"/>
<rect x="151.3" y="107" width="27.70" height="2.00" fill="rgb(231,231,254)"/>
<rect x="151.3" y="110" width="27.70" height="2.00" fill="rgb(215,215,252)"/>
<rect x="151.3" y="113" width="27.70" height="3.00" fill="rgb(239,239,254)"/>
<rect x="151.3" y="123.8" width="27.70" height="3.90" fill="rgb(231,231,254)"/>
<rect x="151.3" y="128.6" width="27.70" height="4.90" fill="rgb(236,236,254)"/>
<rect x="151.3" y="135.5" width="27.70" height="3.80" fill="rgb(223,223,253)"/>
<rect x="151.3" y="140.3" width="27.70" height="3.90" fill="rgb(223,223,253)"/>
<rect x="151.3" y="152" width="27.70" height="3.00" fill="rgb(236,236,254)"/>
<rect x="151.3" y="157.8" width="27.70" height="3.00" fill="rgb(231,231,254)"/>
<rect x="151.3" y="162" width="27.70" height="4.00" fill="rgb(242,242,254)"/>
<rect x="151.3" y="167" width="27.70" height="4.00" fill="rgb(239,239,254)"/>
<rect x="151.3" y="175.8" width="27.70" height="4.80" fill="rgb(223,223,253)"/>
<rect x="151.3" y="180.6" width="27.70" height="3.90" fill="rgb(231,231,254)"/>
<rect x="151.3" y="184.5" width="27.70" height="7.50" fill="rgb(223,223,253)"/>
<rect x="151.3" y="192" width="27.70" height="15.50" fill="rgb(175,175,250)"/>
<rect x="151.3" y="207.5" width="27.70" height="3.50" fill="rgb(183,183,250)"/>
<rect x="151.3" y="211" width="27.70" height="6.00" fill="rgb(175,175,250)"/>
<rect x="151.3" y="217" width="27.70" height="1.80" fill="rgb(159,159,249)"/>
<rect x="151.3" y="218.8" width="27.70" height="4.60" fill="rgb(199,199,252)"/>
<rect x="151.3" y="223.4" width="27.70" height="3.10" fill="rgb(183,183,250)"/>
<rect x="151.3" y="226.5" width="27.70" height="8.70" fill="rgb(175,175,250)"/>
<rect x="151.3" y="235.2" width="27.70" height="1.80" fill="rgb(183,183,250)"/>
<rect x="151.3" y="237" width="27.70" height="4.00" fill="rgb(175,175,250)"/>
<rect x="151.3" y="241" width="27.70" height="1.20" fill="rgb(159,159,249)"/>
<rect x="151.3" y="242.2" width="27.70" height="3.40" fill="rgb(183,183,250)"/>
<rect x="151.3" y="245.6" width="27.70" height="2.60" fill="rgb(167,167,250)"/>
<rect x="151.3" y="248.2" width="27.70" height="5.20" fill="rgb(183,183,250)"/>
<rect x="151.3" y="253.4" width="27.70" height="5.90" fill="rgb(156,156,249)"/>
<rect x="151.3" y="259.3" width="27.70" height="2.70" fill="rgb(183,183,250)"/>
<rect x="151.3" y="262" width="27.70" height="8.60" fill="rgb(172,172,250)"/>
<rect x="151.3" y="270.6" width="27.70" height="3.40" fill="rgb(188,188,251)"/>
<rect x="151.3" y="274" width="27.70" height="6.50" fill="rgb(175,175,250)"/>
<rect x="151.3" y="280.5" width="27.70" height="1.00" fill="rgb(167,167,250)"/>
<rect x="151.3" y="281.5" width="27.70" height="2.90" fill="rgb(175,175,250)"/>
<rect x="151.3" y="284.4" width="27.70" height="5.20" fill="rgb(167,167,250)"/>
<rect x="151.3" y="289.6" width="27.70" height="6.10" fill="rgb(178,178,250)"/>
<rect x="151.3" y="295.7" width="27.70" height="2.60" fill="rgb(159,159,249)"/>
<rect x="151.3" y="298.3" width="27.70" height="13.70" fill="rgb(188,188,251)"/>
<rect x="151.3" y="312" width="27.70" height="8.80" fill="rgb(183,183,250)"/>
<rect x="151.3" y="320.8" width="27.70" height="6.10" fill="rgb(175,175,250)"/>
<rect x="151.3" y="326.9" width="27.70" height="2.60" fill="rgb(135,135,248)"/>
<rect x="151.3" y="329.5" width="27.70" height="5.50" fill="rgb(167,167,250)"/>
<rect x="151.3" y="335" width="27.70" height="15.60" fill="rgb(159,159,249)"/>
<rect x="151.3" y="350.6" width="27.70" height="10.40" fill="rgb(162,162,249)"/>
<rect x="151.3" y="361" width="27.70" height="5.50" fill="rgb(167,167,250)"/>
<rect x="151.3" y="366.5" width="27.70" height="1.00" fill="rgb(183,183,250)"/>
<rect x="151.3" y="367.5" width="27.70" height="3.90" fill="rgb(167,167,250)"/>
<rect x="151.3" y="371.4" width="27.70" height="1.60" fill="rgb(183,183,250)"/>
<rect x="151.3" y="373" width="27.70" height="12.20" fill="rgb(175,175,250)"/>
<rect x="151.3" y="385.2" width="27.70" height="3.50" fill="rgb(167,167,250)"/>
<rect x="151.3" y="388.7" width="27.70" height="8.60" fill="rgb(183,183,250)"/>
<rect x="151.3" y="397.3" width="27.70" height="14.00" fill="rgb(151,151,248)"/>
<rect x="151.3" y="411.3" width="27.70" height="3.20" fill="rgb(231,231,254)"/>
<rect x="151.3" y="415" width="27.70" height="9.00" fill="rgb(239,239,254)"/>
<rect x="151.3" y="425" width="27.70" height="3.80" fill="rgb(215,215,252)"/>
<rect x="151.3" y="429" width="27.70" height="4.00" fill="rgb(242,242,254)"/>
<rect x="180.5" y="77.5" width="29.90" height="359.5" fill="rgb(252,252,255)"/>
<rect x="180.5" y="90.2" width="29.90" height="2" fill="rgb(247,247,254)"/>
<rect x="180.5" y="155.7" width="29.90" height="2" fill="rgb(247,247,254)"/>
<rect x="180.5" y="181.8" width="29.90" height="2.5" fill="rgb(247,247,254)"/>
<rect x="180.5" y="194.9" width="29.90" height="2.5" fill="rgb(247,247,254)"/>
<rect x="180.5" y="213.1" width="29.90" height="1.5" fill="rgb(247,247,254)"/>
<rect x="180.5" y="223.0" width="29.90" height="2.5" fill="rgb(247,247,254)"/>
<rect x="180.5" y="236.6" width="29.90" height="1.5" fill="rgb(247,247,254)"/>
<rect x="180.5" y="263.5" width="29.90" height="2" fill="rgb(247,247,254)"/>
<rect x="180.5" y="319.4" width="29.90" height="2.5" fill="rgb(247,247,254)"/>
<rect x="180.5" y="323.3" width="29.90" height="2.5" fill="rgb(247,247,254)"/>
<rect x="180.5" y="328.5" width="29.90" height="2" fill="rgb(247,247,254)"/>
<rect x="180.5" y="365.5" width="29.90" height="2" fill="rgb(247,247,254)"/>
<rect x="180.5" y="370.7" width="29.90" height="2" fill="rgb(247,247,254)"/>
<rect x="180.5" y="375.7" width="29.90" height="2.5" fill="rgb(247,247,254)"/>
<rect x="180.5" y="385.0" width="29.90" height="1.5" fill="rgb(247,247,254)"/>
<rect x="180.5" y="397.3" width="29.90" height="2" fill="rgb(247,247,254)"/>
<rect x="180.5" y="402.6" width="29.90" height="2" fill="rgb(247,247,254)"/>
<rect x="180.5" y="416.9" width="29.90" height="1.5" fill="rgb(247,247,254)"/>
<rect x="180.5" y="421.5" width="29.90" height="2" fill="rgb(247,247,254)"/>
<rect x="180.5" y="431.4" width="29.90" height="2" fill="rgb(247,247,254)"/>
<rect x="180.5" y="77.5" width="29.90" height="4.50" fill="rgb(247,247,254)"/>
<rect x="180.5" y="82.8" width="29.90" height="3.00" fill="rgb(223,223,253)"/>
<rect x="180.5" y="95.5" width="29.90" height="5.80" fill="rgb(223,223,253)"/>
<rect x="180.5" y="102.3" width="29.90" height="5.70" fill="rgb(236,236,254)"/>
<rect x="180.5" y="110" width="29.90" height="2.00" fill="rgb(223,223,253)"/>
<rect x="180.5" y="113" width="29.90" height="10.00" fill="rgb(247,247,254)"/>
<rect x="180.5" y="124.7" width="29.90" height="3.90" fill="rgb(207,207,252)"/>
<rect x="180.5" y="129.6" width="29.90" height="5.90" fill="rgb(231,231,254)"/>
<rect x="180.5" y="137.4" width="29.90" height="3.90" fill="rgb(223,223,253)"/>
<rect x="180.5" y="142" width="29.90" height="4.00" fill="rgb(247,247,254)"/>
<rect x="180.5" y="151" width="29.90" height="2.00" fill="rgb(242,242,254)"/>
<rect x="180.5" y="159" width="29.90" height="2.00" fill="rgb(247,247,254)"/>
<rect x="180.5" y="167" width="29.90" height="4.00" fill="rgb(231,231,254)"/>
<rect x="180.5" y="171.9" width="29.90" height="6.80" fill="rgb(239,239,254)"/>
<rect x="180.5" y="179.7" width="29.90" height="1.90" fill="rgb(247,247,254)"/>
<rect x="180.5" y="186.5" width="29.90" height="4.90" fill="rgb(247,247,254)"/>
<rect x="180.5" y="200" width="29.90" height="3.00" fill="rgb(231,231,254)"/>
<rect x="180.5" y="204" width="29.90" height="2.00" fill="rgb(247,247,254)"/>
<rect x="180.5" y="207" width="29.90" height="3.00" fill="rgb(231,231,254)"/>
<rect x="180.5" y="217.6" width="29.90" height="3.00" fill="rgb(223,223,253)"/>
<rect x="180.5" y="226.4" width="29.90" height="2.90" fill="rgb(247,247,254)"/>
<rect x="180.5" y="231" width="29.90" height="3.00" fill="rgb(236,236,254)"/>
<rect x="180.5" y="239" width="29.90" height="3.00" fill="rgb(231,231,254)"/>
<rect x="180.5" y="245" width="29.90" height="3.00" fill="rgb(239,239,254)"/>
<rect x="180.5" y="250.8" width="29.90" height="3.90" fill="rgb(231,231,254)"/>
<rect x="180.5" y="257" width="29.90" height="5.80" fill="rgb(236,236,254)"/>
<rect x="180.5" y="265.8" width="29.90" height="4.80" fill="rgb(207,207,252)"/>
<rect x="180.5" y="271.6" width="29.90" height="3.90" fill="rgb(247,247,254)"/>
<rect x="180.5" y="277.5" width="29.90" height="2.90" fill="rgb(207,207,252)"/>
<rect x="180.5" y="280.4" width="29.90" height="3.90" fill="rgb(199,199,252)"/>
<rect x="180.5" y="284.3" width="29.90" height="3.90" fill="rgb(207,207,252)"/>
<rect x="180.5" y="294" width="29.90" height="5.00" fill="rgb(223,223,253)"/>
<rect x="180.5" y="299.9" width="29.90" height="3.80" fill="rgb(247,247,254)"/>
<rect x="180.5" y="304.7" width="29.90" height="8.80" fill="rgb(231,231,254)"/>
<rect x="180.5" y="315.4" width="29.90" height="3.00" fill="rgb(231,231,254)"/>
<rect x="180.5" y="331" width="29.90" height="4.00" fill="rgb(207,207,252)"/>
<rect x="180.5" y="336" width="29.90" height="10.60" fill="rgb(223,223,253)"/>
<rect x="180.5" y="347" width="29.90" height="4.00" fill="rgb(215,215,252)"/>
<rect x="180.5" y="351.9" width="29.90" height="3.90" fill="rgb(223,223,253)"/>
<rect x="180.5" y="356.7" width="29.90" height="3.90" fill="rgb(231,231,254)"/>
<rect x="180.5" y="361.6" width="29.90" height="2.90" fill="rgb(223,223,253)"/>
<rect x="180.5" y="381" width="29.90" height="4.00" fill="rgb(215,215,252)"/>
<rect x="180.5" y="387" width="29.90" height="3.00" fill="rgb(207,207,252)"/>
<rect x="180.5" y="393.8" width="29.90" height="2.90" fill="rgb(215,215,252)"/>
<rect x="180.5" y="408.4" width="29.90" height="2.90" fill="rgb(207,207,252)"/>
<rect x="180.5" y="412.3" width="29.90" height="2.90" fill="rgb(223,223,253)"/>
<rect x="180.5" y="425" width="29.90" height="3.00" fill="rgb(255,245,245)"/>
<rect x="180.5" y="433.7" width="29.90" height="2.90" fill="rgb(239,239,254)"/>
<rect x="210.9" y="77.5" width="29.10" height="359.5" fill="rgb(252,252,255)"/>
<rect x="210.9" y="79.0" width="29.10" height="2.5" fill="rgb(247,247,254)"/>
<rect x="210.9" y="84.3" width="29.10" height="1.5" fill="rgb(247,247,254)"/>
<rect x="210.9" y="89.2" width="29.10" height="1.5" fill="rgb(247,247,254)"/>
<rect x="210.9" y="102.4" width="29.10" height="2" fill="rgb(247,247,254)"/>
<rect x="210.9" y="111.5" width="29.10" height="2" fill="rgb(247,247,254)"/>
<rect x="210.9" y="130.2" width="29.10" height="1.5" fill="rgb(247,247,254)"/>
<rect x="210.9" y="149.4" width="29.10" height="2" fill="rgb(247,247,254)"/>
<rect x="210.9" y="158.4" width="29.10" height="2" fill="rgb(247,247,254)"/>
<rect x="210.9" y="176.6" width="29.10" height="2.5" fill="rgb(247,247,254)"/>
<rect x="210.9" y="226.2" width="29.10" height="2.5" fill="rgb(247,247,254)"/>
<rect x="210.9" y="236.5" width="29.10" height="2" fill="rgb(247,247,254)"/>
<rect x="210.9" y="241.6" width="29.10" height="2.5" fill="rgb(247,247,254)"/>
<rect x="210.9" y="261.2" width="29.10" height="1.5" fill="rgb(247,247,254)"/>
<rect x="210.9" y="279.1" width="29.10" height="2" fill="rgb(247,247,254)"/>
<rect x="210.9" y="302.6" width="29.10" height="1.5" fill="rgb(247,247,254)"/>
<rect x="210.9" y="313.2" width="29.10" height="2" fill="rgb(247,247,254)"/>
<rect x="210.9" y="324.5" width="29.10" height="1.5" fill="rgb(247,247,254)"/>
<rect x="210.9" y="328.3" width="29.10" height="2.5" fill="rgb(247,247,254)"/>
<rect x="210.9" y="342.2" width="29.10" height="1.5" fill="rgb(247,247,254)"/>
<rect x="210.9" y="361.2" width="29.10" height="1.5" fill="rgb(247,247,254)"/>
<rect x="210.9" y="365.2" width="29.10" height="1.5" fill="rgb(247,247,254)"/>
<rect x="210.9" y="396.8" width="29.10" height="2" fill="rgb(247,247,254)"/>
<rect x="210.9" y="406.2" width="29.10" height="1.5" fill="rgb(247,247,254)"/>
<rect x="210.9" y="411.5" width="29.10" height="1.5" fill="rgb(247,247,254)"/>
<rect x="210.9" y="416.4" width="29.10" height="2" fill="rgb(247,247,254)"/>
<rect x="210.9" y="425.0" width="29.10" height="2.5" fill="rgb(247,247,254)"/>
<rect x="210.9" y="428.6" width="29.10" height="2" fill="rgb(247,247,254)"/>
<rect x="210.9" y="93.6" width="29.10" height="1.90" fill="rgb(247,247,254)"/>
<rect x="210.9" y="99.4" width="29.10" height="1.90" fill="rgb(231,231,254)"/>
<rect x="210.9" y="105.2" width="29.10" height="2.80" fill="rgb(223,223,253)"/>
<rect x="210.9" y="115" width="29.10" height="3.00" fill="rgb(255,235,235)"/>
<rect x="210.9" y="121.8" width="29.10" height="2.90" fill="rgb(239,239,254)"/>
<rect x="210.9" y="125.7" width="29.10" height="2.00" fill="rgb(231,231,254)"/>
<rect x="210.9" y="134.5" width="29.10" height="2.90" fill="rgb(215,215,252)"/>
<rect x="210.9" y="138.4" width="29.10" height="1.90" fill="rgb(239,239,254)"/>
<rect x="210.9" y="146" width="29.10" height="2.00" fill="rgb(231,231,254)"/>
<rect x="210.9" y="153" width="29.10" height="2.00" fill="rgb(247,247,254)"/>
<rect x="210.9" y="163.7" width="29.10" height="2.90" fill="rgb(236,236,254)"/>
<rect x="210.9" y="167" width="29.10" height="3.00" fill="rgb(231,231,254)"/>
<rect x="210.9" y="171" width="29.10" height="3.80" fill="rgb(223,223,253)"/>
<rect x="210.9" y="179.7" width="29.10" height="12.30" fill="rgb(199,199,252)"/>
<rect x="210.9" y="192" width="29.10" height="4.00" fill="rgb(194,194,251)"/>
<rect x="210.9" y="196" width="29.10" height="4.00" fill="rgb(204,204,252)"/>
<rect x="210.9" y="200" width="29.10" height="3.00" fill="rgb(191,191,251)"/>
<rect x="210.9" y="203" width="29.10" height="4.00" fill="rgb(202,202,252)"/>
<rect x="210.9" y="207" width="29.10" height="3.00" fill="rgb(191,191,251)"/>
<rect x="210.9" y="210" width="29.10" height="7.60" fill="rgb(199,199,252)"/>
<rect x="210.9" y="217.6" width="29.10" height="3.00" fill="rgb(183,183,250)"/>
<rect x="210.9" y="220.6" width="29.10" height="2.90" fill="rgb(223,223,253)"/>
<rect x="210.9" y="223.5" width="29.10" height="2.50" fill="rgb(215,215,252)"/>
<rect x="210.9" y="232" width="29.10" height="3.00" fill="rgb(247,247,254)"/>
<rect x="210.9" y="247" width="29.10" height="3.80" fill="rgb(247,247,254)"/>
<rect x="210.9" y="252" width="29.10" height="5.00" fill="rgb(242,242,254)"/>
<rect x="210.9" y="257" width="29.10" height="4.00" fill="rgb(242,242,254)"/>
<rect x="210.9" y="268.5" width="29.10" height="2.30" fill="rgb(231,231,254)"/>
<rect x="210.9" y="275.4" width="29.10" height="2.30" fill="rgb(223,223,253)"/>
<rect x="210.9" y="282.3" width="29.10" height="2.30" fill="rgb(223,223,253)"/>
<rect x="210.9" y="288" width="29.10" height="2.00" fill="rgb(247,247,254)"/>
<rect x="210.9" y="292.7" width="29.10" height="2.30" fill="rgb(223,223,253)"/>
<rect x="210.9" y="298.5" width="29.10" height="2.30" fill="rgb(223,223,253)"/>
<rect x="210.9" y="304.2" width="29.10" height="2.30" fill="rgb(215,215,252)"/>
<rect x="210.9" y="308.6" width="29.10" height="2.00" fill="rgb(247,247,254)"/>
<rect x="210.9" y="315.8" width="29.10" height="2.20" fill="rgb(223,223,253)"/>
<rect x="210.9" y="321" width="29.10" height="2.00" fill="rgb(247,247,254)"/>
<rect x="210.9" y="332" width="29.10" height="2.50" fill="rgb(220,220,253)"/>
<rect x="210.9" y="336.5" width="29.10" height="3.50" fill="rgb(231,231,254)"/>
<rect x="210.9" y="347" width="29.10" height="3.00" fill="rgb(239,239,254)"/>
<rect x="210.9" y="351" width="29.10" height="2.80" fill="rgb(223,223,253)"/>
<rect x="210.9" y="355.8" width="29.10" height="2.90" fill="rgb(250,250,255)"/>
<rect x="210.9" y="368.4" width="29.10" height="3.00" fill="rgb(223,223,253)"/>
<rect x="210.9" y="374.3" width="29.10" height="3.90" fill="rgb(239,239,254)"/>
<rect x="210.9" y="382" width="29.10" height="8.00" fill="rgb(247,247,254)"/>
<rect x="210.9" y="393.8" width="29.10" height="1.90" fill="rgb(250,250,255)"/>
<rect x="210.9" y="402.5" width="29.10" height="2.00" fill="rgb(242,242,254)"/>
<rect x="210.9" y="408.4" width="29.10" height="2.90" fill="rgb(223,223,253)"/>
<rect x="210.9" y="413.2" width="29.10" height="2.00" fill="rgb(247,247,254)"/>
<rect x="210.9" y="422" width="29.10" height="2.00" fill="rgb(236,236,254)"/>
<rect x="210.9" y="433.7" width="29.10" height="2.90" fill="rgb(239,239,254)"/>
<rect x="240.5" y="77.5" width="30.00" height="359.5" fill="rgb(252,252,255)"/>
<rect x="240.5" y="118.8" width="30.00" height="2" fill="rgb(247,247,254)"/>
<rect x="240.5" y="195.1" width="30.00" height="2" fill="rgb(247,247,254)"/>
<rect x="240.5" y="270.7" width="30.00" height="2.5" fill="rgb(247,247,254)"/>
<rect x="240.5" y="275.3" width="30.00" height="2.5" fill="rgb(247,247,254)"/>
<rect x="240.5" y="285.8" width="30.00" height="1.5" fill="rgb(247,247,254)"/>
<rect x="240.5" y="311.5" width="30.00" height="1.5" fill="rgb(247,247,254)"/>
<rect x="240.5" y="316.5" width="30.00" height="2" fill="rgb(247,247,254)"/>
<rect x="240.5" y="338.0" width="30.00" height="2.5" fill="rgb(247,247,254)"/>
<rect x="240.5" y="374.5" width="30.00" height="1.5" fill="rgb(247,247,254)"/>
<rect x="240.5" y="387.0" width="30.00" height="2" fill="rgb(247,247,254)"/>
<rect x="240.5" y="391.4" width="30.00" height="2" fill="rgb(247,247,254)"/>
<rect x="240.5" y="409.4" width="30.00" height="2.5" fill="rgb(247,247,254)"/>
<rect x="240.5" y="423.3" width="30.00" height="2" fill="rgb(247,247,254)"/>
<rect x="240.5" y="77.5" width="30.00" height="2.50" fill="rgb(247,247,254)"/>
<rect x="240.5" y="81" width="30.00" height="2.80" fill="rgb(223,223,253)"/>
<rect x="240.5" y="85.8" width="30.00" height="3.90" fill="rgb(223,223,253)"/>
<rect x="240.5" y="91.6" width="30.00" height="2.00" fill="rgb(231,231,254)"/>
<rect x="240.5" y="95.5" width="30.00" height="6.80" fill="rgb(207,207,252)"/>
<rect x="240.5" y="102.3" width="30.00" height="2.70" fill="rgb(247,247,254)"/>
<rect x="240.5" y="111" width="30.00" height="5.00" fill="rgb(215,215,252)"/>
<rect x="240.5" y="122.8" width="30.00" height="3.90" fill="rgb(239,239,254)"/>
<rect x="240.5" y="130.6" width="30.00" height="4.90" fill="rgb(199,199,252)"/>
<rect x="240.5" y="136.4" width="30.00" height="4.90" fill="rgb(207,207,252)"/>
<rect x="240.5" y="141.3" width="30.00" height="5.70" fill="rgb(231,231,254)"/>
<rect x="240.5" y="147" width="30.00" height="3.00" fill="rgb(207,207,252)"/>
<rect x="240.5" y="150" width="30.00" height="4.00" fill="rgb(231,231,254)"/>
<rect x="240.5" y="154" width="30.00" height="3.00" fill="rgb(199,199,252)"/>
<rect x="240.5" y="157" width="30.00" height="3.80" fill="rgb(231,231,254)"/>
<rect x="240.5" y="160.8" width="30.00" height="2.90" fill="rgb(207,207,252)"/>
<rect x="240.5" y="164.5" width="30.00" height="2.50" fill="rgb(239,239,254)"/>
<rect x="240.5" y="167" width="30.00" height="4.90" fill="rgb(199,199,252)"/>
<rect x="240.5" y="171.9" width="30.00" height="6.80" fill="rgb(223,223,253)"/>
<rect x="240.5" y="178.7" width="30.00" height="3.90" fill="rgb(207,207,252)"/>
<rect x="240.5" y="182.6" width="30.00" height="3.90" fill="rgb(231,231,254)"/>
<rect x="240.5" y="186.5" width="30.00" height="4.90" fill="rgb(223,223,253)"/>
<rect x="240.5" y="191.4" width="30.00" height="3.60" fill="rgb(239,239,254)"/>
<rect x="240.5" y="200" width="30.00" height="4.00" fill="rgb(239,239,254)"/>
<rect x="240.5" y="206" width="30.00" height="3.00" fill="rgb(231,231,254)"/>
<rect x="240.5" y="210" width="30.00" height="7.00" fill="rgb(247,247,254)"/>
<rect x="240.5" y="218.6" width="30.00" height="2.90" fill="rgb(236,236,254)"/>
<rect x="240.5" y="222" width="30.00" height="4.00" fill="rgb(247,247,254)"/>
<rect x="240.5" y="226.4" width="30.00" height="3.90" fill="rgb(231,231,254)"/>
<rect x="240.5" y="231.3" width="30.00" height="3.90" fill="rgb(223,223,253)"/>
<rect x="240.5" y="236" width="30.00" height="4.00" fill="rgb(231,231,254)"/>
<rect x="240.5" y="241" width="30.00" height="4.00" fill="rgb(247,247,254)"/>
<rect x="240.5" y="246" width="30.00" height="4.00" fill="rgb(231,231,254)"/>
<rect x="240.5" y="250.8" width="30.00" height="3.90" fill="rgb(223,223,253)"/>
<rect x="240.5" y="257" width="30.00" height="4.90" fill="rgb(231,231,254)"/>
<rect x="240.5" y="263.8" width="30.00" height="2.90" fill="rgb(231,231,254)"/>
<rect x="240.5" y="278.4" width="30.00" height="3.90" fill="rgb(223,223,253)"/>
<rect x="240.5" y="291" width="30.00" height="3.00" fill="rgb(231,231,254)"/>
<rect x="240.5" y="296" width="30.00" height="2.00" fill="rgb(236,236,254)"/>
<rect x="240.5" y="299.9" width="30.00" height="1.90" fill="rgb(231,231,254)"/>
<rect x="240.5" y="304.7" width="30.00" height="3.00" fill="rgb(223,223,253)"/>
<rect x="240.5" y="319.3" width="30.00" height="2.00" fill="rgb(231,231,254)"/>
<rect x="240.5" y="327" width="30.00" height="3.00" fill="rgb(207,207,252)"/>
<rect x="240.5" y="334" width="30.00" height="3.00" fill="rgb(236,236,254)"/>
<rect x="240.5" y="340.8" width="30.00" height="2.90" fill="rgb(236,236,254)"/>
<rect x="240.5" y="347" width="30.00" height="3.00" fill="rgb(247,247,254)"/>
<rect x="240.5" y="353.8" width="30.00" height="3.90" fill="rgb(215,215,252)"/>
<rect x="240.5" y="358.7" width="30.00" height="2.90" fill="rgb(247,247,254)"/>
<rect x="240.5" y="362.6" width="30.00" height="3.90" fill="rgb(236,236,254)"/>
<rect x="240.5" y="368.4" width="30.00" height="3.90" fill="rgb(236,236,254)"/>
<rect x="240.5" y="378" width="30.00" height="6.00" fill="rgb(231,231,254)"/>
<rect x="240.5" y="396.7" width="30.00" height="3.90" fill="rgb(223,223,253)"/>
<rect x="240.5" y="401.5" width="30.00" height="3.00" fill="rgb(231,231,254)"/>
<rect x="240.5" y="415" width="30.00" height="2.00" fill="rgb(247,247,254)"/>
<rect x="240.5" y="420" width="30.00" height="3.00" fill="rgb(215,215,252)"/>
<rect x="240.5" y="427" width="30.00" height="2.00" fill="rgb(247,247,254)"/>
<rect x="240.5" y="431" width="30.00" height="3.00" fill="rgb(247,247,254)"/>
<rect x="271.1" y="77.5" width="26.90" height="359.5" fill="rgb(252,252,255)"/>
<rect x="271.1" y="86.8" width="26.90" height="1.5" fill="rgb(247,247,254)"/>
<rect x="271.1" y="118.0" width="26.90" height="1.5" fill="rgb(247,247,254)"/>
<rect x="271.1" y="132.7" width="26.90" height="1.5" fill="rgb(247,247,254)"/>
<rect x="271.1" y="137.5" width="26.90" height="2.5" fill="rgb(247,247,254)"/>
<rect x="271.1" y="146.6" width="26.90" height="2" fill="rgb(247,247,254)"/>
<rect x="271.1" y="150.1" width="26.90" height="1.5" fill="rgb(247,247,254)"/>
<rect x="271.1" y="153.8" width="26.90" height="1.5" fill="rgb(247,247,254)"/>
<rect x="271.1" y="162.9" width="26.90" height="1.5" fill="rgb(247,247,254)"/>
<rect x="271.1" y="239.9" width="26.90" height="2.5" fill="rgb(247,247,254)"/>
<rect x="271.1" y="244.6" width="26.90" height="1.5" fill="rgb(247,247,254)"/>
<rect x="271.1" y="249.1" width="26.90" height="1.5" fill="rgb(247,247,254)"/>
<rect x="271.1" y="263.2" width="26.90" height="2" fill="rgb(247,247,254)"/>
<rect x="271.1" y="280.9" width="26.90" height="2.5" fill="rgb(247,247,254)"/>
<rect x="271.1" y="288.7" width="26.90" height="2.5" fill="rgb(247,247,254)"/>
<rect x="271.1" y="297.5" width="26.90" height="2" fill="rgb(247,247,254)"/>
<rect x="271.1" y="301.6" width="26.90" height="2" fill="rgb(247,247,254)"/>
<rect x="271.1" y="310.2" width="26.90" height="2.5" fill="rgb(247,247,254)"/>
<rect x="271.1" y="315.2" width="26.90" height="2" fill="rgb(247,247,254)"/>
<rect x="271.1" y="329.6" width="26.90" height="1.5" fill="rgb(247,247,254)"/>
<rect x="271.1" y="333.6" width="26.90" height="2.5" fill="rgb(247,247,254)"/>
<rect x="271.1" y="354.2" width="26.90" height="1.5" fill="rgb(247,247,254)"/>
<rect x="271.1" y="374.2" width="26.90" height="1.5" fill="rgb(247,247,254)"/>
<rect x="271.1" y="387.4" width="26.90" height="2" fill="rgb(247,247,254)"/>
<rect x="271.1" y="395.8" width="26.90" height="1.5" fill="rgb(247,247,254)"/>
<rect x="271.1" y="405.2" width="26.90" height="2" fill="rgb(247,247,254)"/>
<rect x="271.1" y="430.2" width="26.90" height="2.5" fill="rgb(247,247,254)"/>
<rect x="271.1" y="77.5" width="26.90" height="1.50" fill="rgb(250,250,255)"/>
<rect x="271.1" y="82.8" width="26.90" height="3.90" fill="rgb(223,223,253)"/>
<rect x="271.1" y="88.7" width="26.90" height="3.90" fill="rgb(247,247,254)"/>
<rect x="271.1" y="96.5" width="26.90" height="4.80" fill="rgb(239,239,254)"/>
<rect x="271.1" y="106.2" width="26.90" height="2.80" fill="rgb(215,215,252)"/>
<rect x="271.1" y="111" width="26.90" height="4.00" fill="rgb(231,231,254)"/>
<rect x="271.1" y="120.8" width="26.90" height="3.00" fill="rgb(215,215,252)"/>
<rect x="271.1" y="124.7" width="26.90" height="3.00" fill="rgb(207,207,252)"/>
<rect x="271.1" y="140.3" width="26.90" height="2.90" fill="rgb(231,231,254)"/>
<rect x="271.1" y="157" width="26.90" height="3.00" fill="rgb(247,247,254)"/>
<rect x="271.1" y="168.3" width="26.90" height="3.10" fill="rgb(231,231,254)"/>
<rect x="271.1" y="171.4" width="26.90" height="3.80" fill="rgb(199,199,252)"/>
<rect x="271.1" y="175.2" width="26.90" height="4.50" fill="rgb(207,207,252)"/>
<rect x="271.1" y="179.7" width="26.90" height="3.00" fill="rgb(191,191,251)"/>
<rect x="271.1" y="182.7" width="26.90" height="3.80" fill="rgb(207,207,252)"/>
<rect x="271.1" y="186.5" width="26.90" height="3.00" fill="rgb(199,199,252)"/>
<rect x="271.1" y="189.5" width="26.90" height="5.30" fill="rgb(207,207,252)"/>
<rect x="271.1" y="194.8" width="26.90" height="4.60" fill="rgb(199,199,252)"/>
<rect x="271.1" y="199.4" width="26.90" height="4.60" fill="rgb(167,167,250)"/>
<rect x="271.1" y="204" width="26.90" height="3.00" fill="rgb(199,199,252)"/>
<rect x="271.1" y="207" width="26.90" height="4.50" fill="rgb(183,183,250)"/>
<rect x="271.1" y="211.5" width="26.90" height="4.50" fill="rgb(159,159,249)"/>
<rect x="271.1" y="216" width="26.90" height="6.50" fill="rgb(199,199,252)"/>
<rect x="271.1" y="222.5" width="26.90" height="3.50" fill="rgb(215,215,252)"/>
<rect x="271.1" y="226.4" width="26.90" height="2.90" fill="rgb(239,239,254)"/>
<rect x="271.1" y="230.3" width="26.90" height="1.90" fill="rgb(255,239,239)"/>
<rect x="271.1" y="234" width="26.90" height="3.00" fill="rgb(242,242,254)"/>
<rect x="271.1" y="250.8" width="26.90" height="3.90" fill="rgb(247,247,254)"/>
<rect x="271.1" y="257" width="26.90" height="3.00" fill="rgb(247,247,254)"/>
<rect x="271.1" y="269.7" width="26.90" height="2.90" fill="rgb(223,223,253)"/>
<rect x="271.1" y="276.5" width="26.90" height="2.90" fill="rgb(223,223,253)"/>
<rect x="271.1" y="284.3" width="26.90" height="2.90" fill="rgb(239,239,254)"/>
<rect x="271.1" y="292" width="26.90" height="2.00" fill="rgb(231,231,254)"/>
<rect x="271.1" y="303.8" width="26.90" height="1.90" fill="rgb(231,231,254)"/>
<rect x="271.1" y="307.7" width="26.90" height="1.90" fill="rgb(255,235,235)"/>
<rect x="271.1" y="320.3" width="26.90" height="2.00" fill="rgb(255,235,235)"/>
<rect x="271.1" y="324.2" width="26.90" height="2.00" fill="rgb(247,247,254)"/>
<rect x="271.1" y="336.9" width="26.90" height="3.90" fill="rgb(215,215,252)"/>
<rect x="271.1" y="340.8" width="26.90" height="6.20" fill="rgb(223,223,253)"/>
<rect x="271.1" y="347" width="26.90" height="3.00" fill="rgb(207,207,252)"/>
<rect x="271.1" y="351.9" width="26.90" height="1.90" fill="rgb(223,223,253)"/>
<rect x="271.1" y="359.7" width="26.90" height="2.90" fill="rgb(236,236,254)"/>
<rect x="271.1" y="365.5" width="26.90" height="2.90" fill="rgb(223,223,253)"/>
<rect x="271.1" y="368.4" width="26.90" height="4.90" fill="rgb(199,199,252)"/>
<rect x="271.1" y="377" width="26.90" height="3.00" fill="rgb(247,247,254)"/>
<rect x="271.1" y="381" width="26.90" height="3.00" fill="rgb(255,243,243)"/>
<rect x="271.1" y="391.8" width="26.90" height="2.00" fill="rgb(231,231,254)"/>
<rect x="271.1" y="397.7" width="26.90" height="1.90" fill="rgb(231,231,254)"/>
<rect x="271.1" y="402.5" width="26.90" height="2.00" fill="rgb(247,247,254)"/>
<rect x="271.1" y="407.4" width="26.90" height="2.90" fill="rgb(223,223,253)"/>
<rect x="271.1" y="414" width="26.90" height="3.00" fill="rgb(242,242,254)"/>
<rect x="271.1" y="421" width="26.90" height="2.00" fill="rgb(236,236,254)"/>
<rect x="271.1" y="426.9" width="26.90" height="2.90" fill="rgb(223,223,253)"/>
<rect x="271.1" y="432.7" width="26.90" height="2.90" fill="rgb(242,242,254)"/>
</g>
<rect x="1.3" y="193.5" width="298.2" height="31.3" fill="none" stroke="#e8141e" stroke-width="3"/>
<line x1="300" y1="194" x2="390" y2="86.3" stroke="#000" stroke-width="3" stroke-linecap="round"/>
<line x1="299.3" y1="225.5" x2="382.7" y2="438.5" stroke="#000" stroke-width="3" stroke-linecap="round"/>
<text transform="translate(35.6,54.2) rotate(-90)" class="vl">i16028</text>
<text transform="translate(98.5,54.2) rotate(-90)" class="vl">i16208</text>
<text transform="translate(155.6,54.2) rotate(-90)" class="vl">i16238</text>
<text transform="translate(214.2,54.2) rotate(-90)" class="vl">i16306</text>
<text transform="translate(262.2,54.2) rotate(-90)" class="vl">i16283</text>
<text transform="translate(290.8,54.2) rotate(-90)" class="vl">i16286</text>
<line x1="2.4" y1="64.50" x2="55.8" y2="64.50" stroke="#000" stroke-width="3.0" stroke-linecap="round"/>
<line x1="67.0" y1="64.50" x2="113.8" y2="64.50" stroke="#000" stroke-width="3.0" stroke-linecap="round"/>
<line x1="124.7" y1="65.35" x2="173.0" y2="65.35" stroke="#000" stroke-width="2.7" stroke-linecap="round"/>
<line x1="185.5" y1="65.35" x2="230.8" y2="65.35" stroke="#000" stroke-width="2.7" stroke-linecap="round"/>
<line x1="246.5" y1="65.35" x2="266.6" y2="65.35" stroke="#000" stroke-width="2.7" stroke-linecap="round"/>
<line x1="275.4" y1="65.35" x2="295.8" y2="65.35" stroke="#000" stroke-width="2.7" stroke-linecap="round"/>
<text x="16.8" y="461.8" class="pd">P</text>
<text x="47.7" y="461.8" class="pd">D</text>
<text x="77.8" y="461.8" class="pd">P</text>
<text x="107.2" y="461.8" class="pd">D</text>
<text x="138.3" y="461.8" class="pd">P</text>
<text x="167.7" y="461.8" class="pd">D</text>
<text x="199.1" y="461.8" class="pd">P</text>
<text x="229.6" y="461.8" class="pd">D</text>
<text x="257.3" y="461.8" class="pd">D</text>
<text x="288.3" y="461.8" class="pd">D</text>
<text x="307" y="95.2" class="lab">Chr.17</text>
<text x="307" y="119.6" class="lab">22.4</text>
<text x="307" y="144" class="lab">Mb</text>
<text x="307" y="415" class="lab">31.5</text>
<text x="307" y="438.7" class="lab">Mb</text>
<text x="400.3" y="150.9" class="g">NF1</text>
<text x="400.3" y="176.7" class="g">OMG</text>
<text x="400.3" y="202.4" class="g">EVI2B</text>
<text x="400.3" y="228.2" class="g">EVI2A</text>
<text x="400.3" y="253.9" class="g">RAB11FIP4</text>
<text x="400.3" y="279.6" class="g">C17orf79</text>
<text x="400.3" y="305.4" class="g">UTP6</text>
<text x="400.3" y="331.1" class="g">SUZ12</text>
<text x="400.3" y="356.9" class="g">LRRC37B</text>
<text x="400.3" y="382.6" class="g">SH3GLIP1</text>
</svg>
</body></html>
